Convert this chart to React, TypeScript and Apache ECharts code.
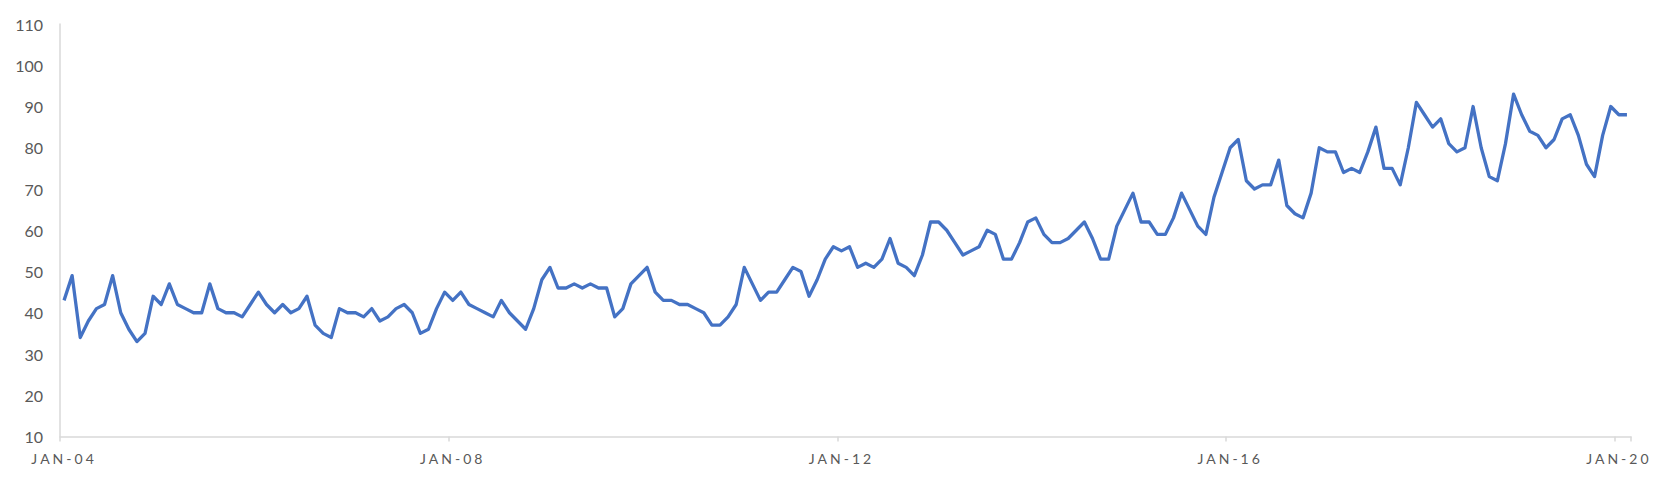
import React, { useEffect, useRef } from 'react';
import * as echarts from 'echarts';

// monthly values, Jan 2004 .. Feb 2020
const values: number[] = [
  43, 49, 34, 38, 41, 42, 49, 40, 36, 33,
  35, 44, 42, 47, 42, 41, 40, 40, 47, 41,
  40, 40, 39, 42, 45, 42, 40, 42, 40, 41,
  44, 37, 35, 34, 41, 40, 40, 39, 41, 38,
  39, 41, 42, 40, 35, 36, 41, 45, 43, 45,
  42, 41, 40, 39, 43, 40, 38, 36, 41, 48,
  51, 46, 46, 47, 46, 47, 46, 46, 39, 41,
  47, 49, 51, 45, 43, 43, 42, 42, 41, 40,
  37, 37, 39, 42, 51, 47, 43, 45, 45, 48,
  51, 50, 44, 48, 53, 56, 55, 56, 51, 52,
  51, 53, 58, 52, 51, 49, 54, 62, 62, 60,
  57, 54, 55, 56, 60, 59, 53, 53, 57, 62,
  63, 59, 57, 57, 58, 60, 62, 58, 53, 53,
  61, 65, 69, 62, 62, 59, 59, 63, 69, 65,
  61, 59, 68, 74, 80, 82, 72, 70, 71, 71,
  77, 66, 64, 63, 69, 80, 79, 79, 74, 75,
  74, 79, 85, 75, 75, 71, 80, 91, 88, 85,
  87, 81, 79, 80, 90, 80, 73, 72, 81, 93,
  88, 84, 83, 80, 82, 87, 88, 83, 76, 73,
  83, 90, 88, 88,
];

const monthNames = ['JAN', 'FEB', 'MAR', 'APR', 'MAY', 'JUN', 'JUL', 'AUG', 'SEP', 'OCT', 'NOV', 'DEC'];
const startYear = 2004;
const tickLabels = ['JAN-04', 'JAN-08', 'JAN-12', 'JAN-16', 'JAN-20'];

const categories = values.map((_, i) => {
  const yy = (startYear + Math.floor(i / 12)) % 100;
  return `${monthNames[i % 12]}-${String(yy).padStart(2, '0')}`;
});

const App: React.FC = () => {
  const chartRef = useRef<HTMLDivElement>(null);

  useEffect(() => {
    if (!chartRef.current) return;
    const chart = echarts.init(chartRef.current, undefined, { renderer: 'svg' });

    const isTick = (_i: number, v: string) => tickLabels.includes(v);

    const option: echarts.EChartsOption = {
      animation: false,
      grid: { left: 60, right: 23, top: 24, bottom: 42.5 },
      xAxis: {
        type: 'category',
        data: categories,
        boundaryGap: true,
        axisLine: { show: true, lineStyle: { color: '#d9d9d9', width: 1.5 } },
        axisTick: { show: true, interval: isTick, length: 5, lineStyle: { color: '#d9d9d9', width: 1.5 } },
        axisLabel: {
          interval: isTick,
          color: '#595959',
          fontFamily: 'Lato',
          fontSize: 14,
          margin: 15,
        },
        splitLine: { show: false },
      },
      yAxis: {
        type: 'value',
        min: 10,
        max: 110,
        interval: 10,
        axisLine: { show: true, lineStyle: { color: '#d9d9d9', width: 1.5 } },
        axisTick: { show: false },
        axisLabel: {
          color: '#595959',
          fontFamily: 'Lato',
          fontSize: 16,
          margin: 17,
        },
        splitLine: { show: false },
      },
      series: [
        {
          type: 'line',
          data: values,
          showSymbol: false,
          lineStyle: { color: '#4472C4', width: 3.3, join: 'round' },
          itemStyle: { color: '#4472C4' },
        },
      ],
    };

    chart.setOption(option);

    // the date labels are letter-spaced in the original
    chartRef.current.querySelectorAll('text').forEach((t) => {
      if (tickLabels.includes(t.textContent || '')) {
        (t as SVGTextElement).style.letterSpacing = '3px';
      }
    });

    return () => {
      chart.dispose();
    };
  }, []);

  return (
    <div
      ref={chartRef}
      style={{ position: 'absolute', left: 0, top: 0, width: 1654, height: 479, background: '#fff' }}
    />
  );
};

export default App;
